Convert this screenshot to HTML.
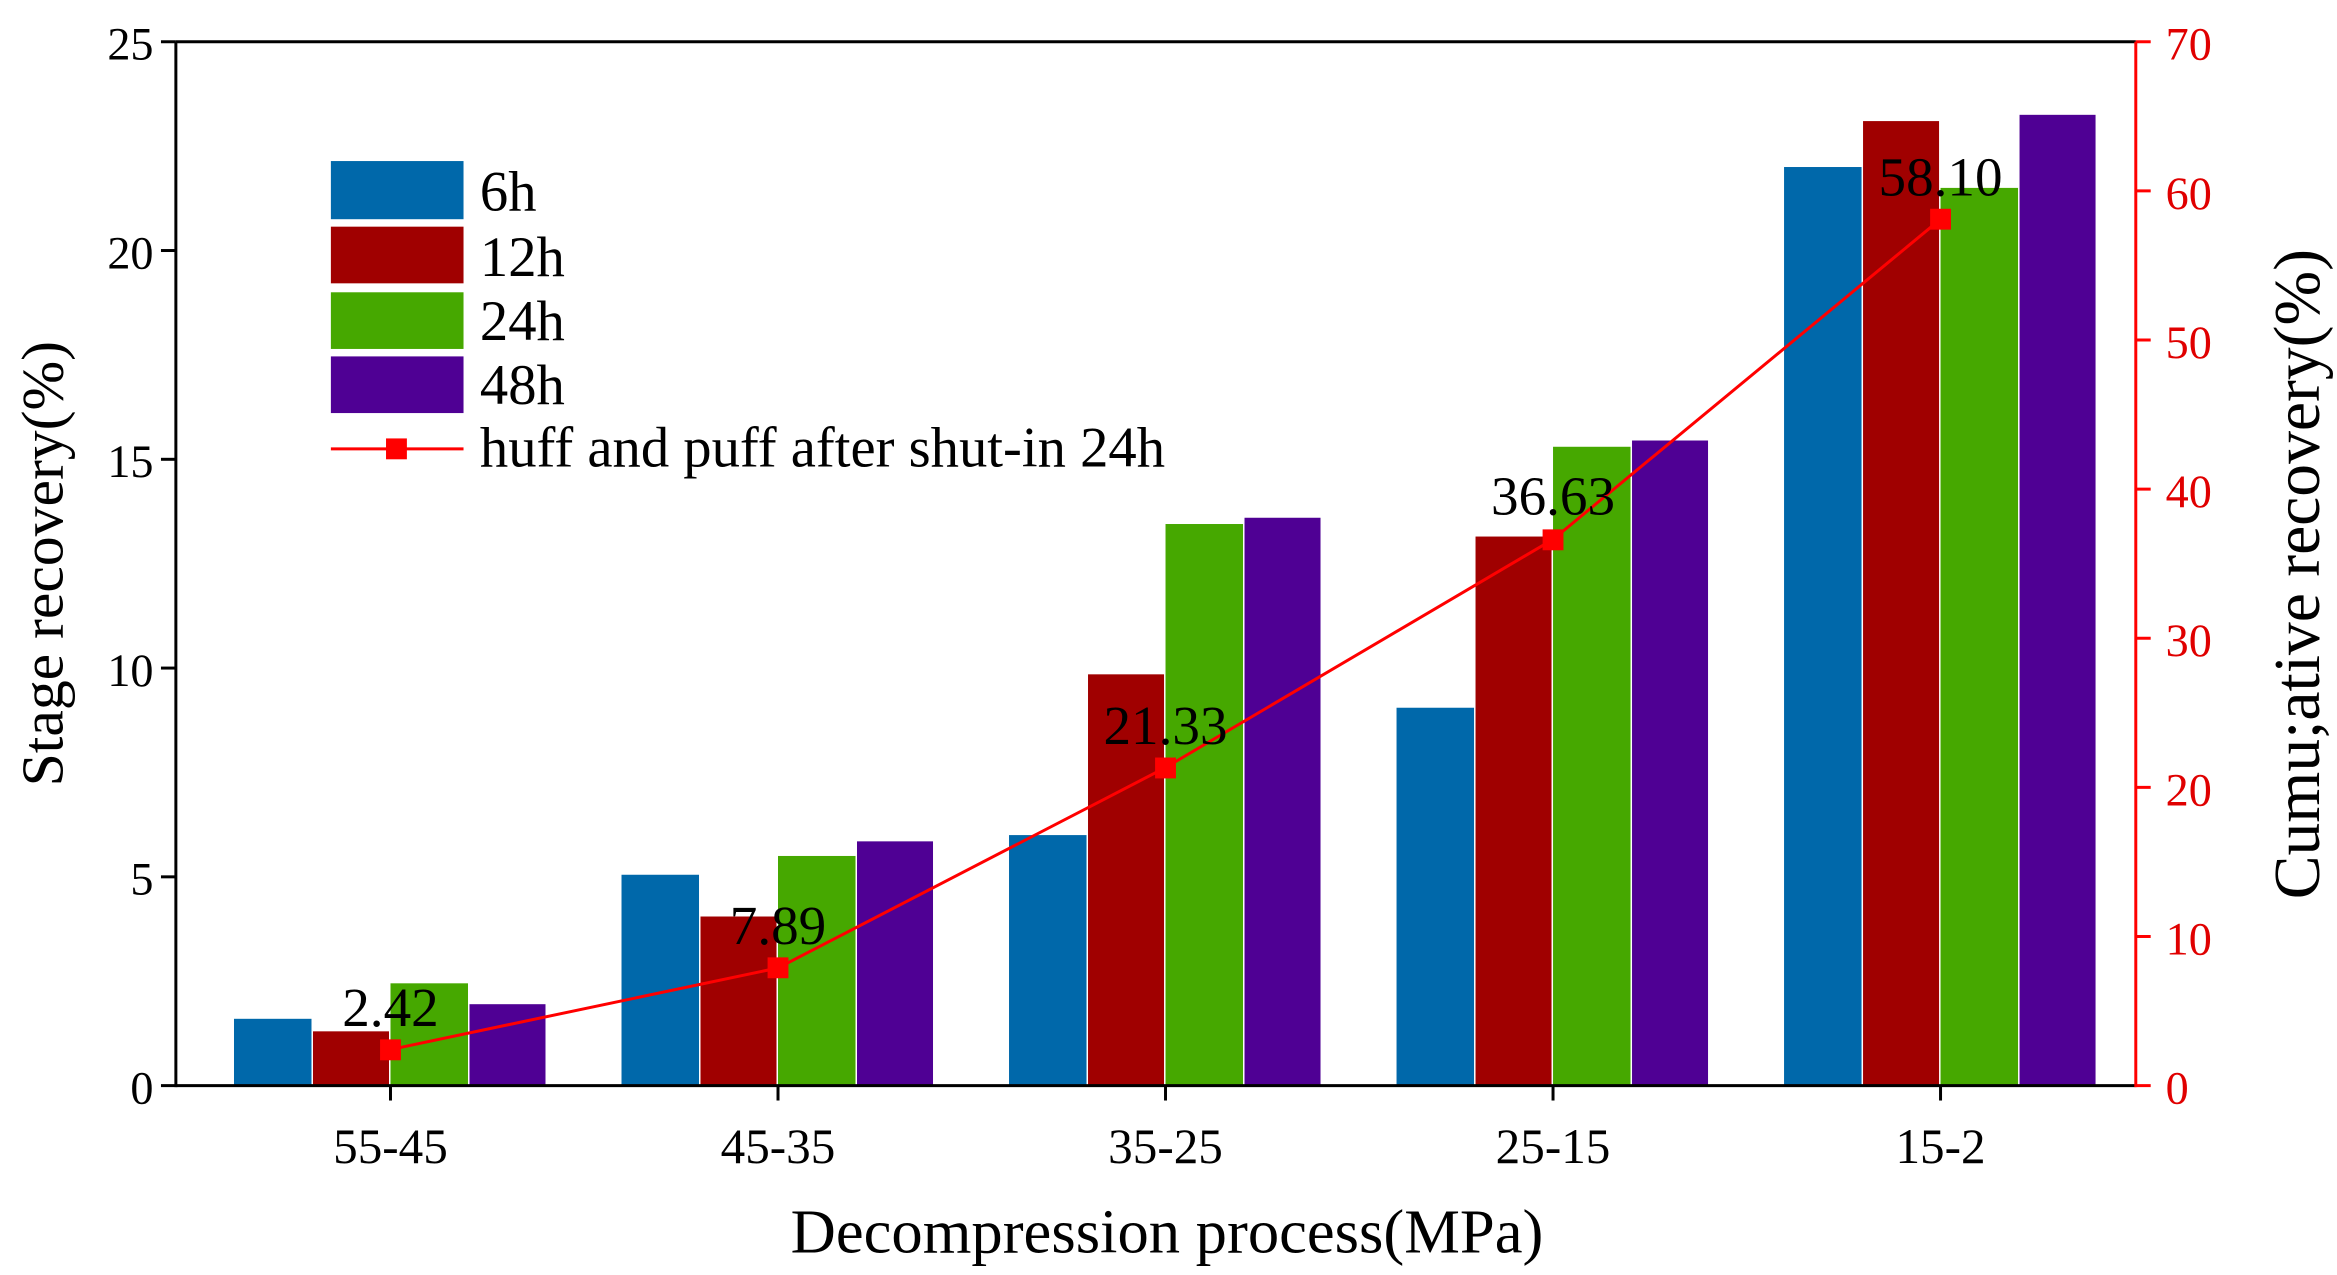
<!DOCTYPE html>
<html><head><meta charset="utf-8"><style>html,body{margin:0;padding:0;background:#fff}svg{display:block}svg text{font-family:"Liberation Serif",serif}</style></head>
<body>
<svg width="2337" height="1275" viewBox="0 0 1568 855" preserveAspectRatio="none" xmlns="http://www.w3.org/2000/svg">
<rect width="1568" height="855" fill="#fff"/>
<g>
<rect x="157" y="683.2" width="52" height="44.8" fill="#0068aa"/>
<rect x="210" y="691.6" width="51" height="36.4" fill="#a00000"/>
<rect x="262" y="659.4" width="52" height="68.6" fill="#46a800"/>
<rect x="315" y="673.4" width="51" height="54.6" fill="#4f0094"/>
<rect x="417" y="586.6" width="52" height="141.4" fill="#0068aa"/>
<rect x="470" y="614.6" width="51" height="113.4" fill="#a00000"/>
<rect x="522" y="574" width="52" height="154" fill="#46a800"/>
<rect x="575" y="564.2" width="51" height="163.8" fill="#4f0094"/>
<rect x="677" y="560" width="52" height="168" fill="#0068aa"/>
<rect x="730" y="452.2" width="51" height="275.8" fill="#a00000"/>
<rect x="782" y="351.4" width="52" height="376.6" fill="#46a800"/>
<rect x="835" y="347.2" width="51" height="380.8" fill="#4f0094"/>
<rect x="937" y="474.6" width="52" height="253.4" fill="#0068aa"/>
<rect x="990" y="359.8" width="51" height="368.2" fill="#a00000"/>
<rect x="1042" y="299.6" width="52" height="428.4" fill="#46a800"/>
<rect x="1095" y="295.4" width="51" height="432.6" fill="#4f0094"/>
<rect x="1197" y="112" width="52" height="616" fill="#0068aa"/>
<rect x="1250" y="81.2" width="51" height="646.8" fill="#a00000"/>
<rect x="1302" y="126" width="52" height="602" fill="#46a800"/>
<rect x="1355" y="77" width="51" height="651" fill="#4f0094"/>
</g>
<line x1="118" y1="28" x2="1433" y2="28" stroke="#000" stroke-width="2"/>
<line x1="118" y1="728" x2="1433" y2="728" stroke="#000" stroke-width="2"/>
<line x1="118" y1="28" x2="118" y2="729" stroke="#000" stroke-width="2"/>
<line x1="1433" y1="28" x2="1433" y2="729" stroke="#f00" stroke-width="2"/>
<g stroke="#000" stroke-width="2">
<line x1="108" y1="28" x2="118" y2="28"/><line x1="108" y1="168" x2="118" y2="168"/><line x1="108" y1="308" x2="118" y2="308"/><line x1="108" y1="448" x2="118" y2="448"/><line x1="108" y1="588" x2="118" y2="588"/><line x1="108" y1="728" x2="118" y2="728"/>
<line x1="262" y1="728" x2="262" y2="738"/><line x1="522" y1="728" x2="522" y2="738"/><line x1="782" y1="728" x2="782" y2="738"/><line x1="1042" y1="728" x2="1042" y2="738"/><line x1="1302" y1="728" x2="1302" y2="738"/>
</g>
<g stroke="#f00" stroke-width="2">
<line x1="1433" y1="28" x2="1443" y2="28"/><line x1="1433" y1="128" x2="1443" y2="128"/><line x1="1433" y1="228" x2="1443" y2="228"/><line x1="1433" y1="328" x2="1443" y2="328"/><line x1="1433" y1="428" x2="1443" y2="428"/><line x1="1433" y1="528" x2="1443" y2="528"/><line x1="1433" y1="628" x2="1443" y2="628"/><line x1="1433" y1="728" x2="1443" y2="728"/>
</g>
<g font-size="31" text-anchor="end" fill="#000">
<text x="103" y="40">25</text><text x="103" y="180">20</text><text x="103" y="320">15</text><text x="103" y="460">10</text><text x="103" y="600">5</text><text x="103" y="740">0</text>
</g>
<g font-size="31" fill="#e00000">
<text x="1453" y="40">70</text><text x="1453" y="140">60</text><text x="1453" y="240">50</text><text x="1453" y="340">40</text><text x="1453" y="440">30</text><text x="1453" y="540">20</text><text x="1453" y="640">10</text><text x="1453" y="740">0</text>
</g>
<g font-size="33" text-anchor="middle">
<text x="262" y="780">55-45</text><text x="522" y="780">45-35</text><text x="782" y="780">35-25</text><text x="1042" y="780">25-15</text><text x="1302" y="780">15-2</text>
</g>
<text x="783" y="840" font-size="42" text-anchor="middle">Decompression process(MPa)</text>
<text transform="translate(42,378) rotate(-90)" font-size="40" text-anchor="middle">Stage recovery(%)</text>
<text transform="translate(1556,385) rotate(-90)" font-size="44" text-anchor="middle">Cumu;ative recovery(%)</text>
<polyline points="262,703.8 522,649.1 782,514.7 1042,361.7 1302,147" fill="none" stroke="#f00" stroke-width="2"/>
<g fill="#f00">
<rect x="255" y="697" width="14" height="14"/><rect x="515" y="642" width="14" height="14"/><rect x="775" y="508" width="14" height="14"/><rect x="1035" y="355" width="14" height="14"/><rect x="1295" y="140" width="14" height="14"/>
</g>
<g font-size="37" text-anchor="middle">
<text x="262" y="688">2.42</text><text x="522" y="633">7.89</text><text x="782" y="499">21.33</text><text x="1042" y="345">36.63</text><text x="1302" y="131">58.10</text>
</g>
<rect x="222" y="108" width="89" height="39" fill="#0068aa"/>
<rect x="222" y="152" width="89" height="38" fill="#a00000"/>
<rect x="222" y="196" width="89" height="38" fill="#46a800"/>
<rect x="222" y="239" width="89" height="38" fill="#4f0094"/>
<g font-size="38">
<text x="322" y="141">6h</text><text x="322" y="185">12h</text><text x="322" y="228">24h</text><text x="322" y="271">48h</text>
<text x="322" y="313">huff and puff after shut-in 24h</text>
</g>
<line x1="222" y1="301" x2="311" y2="301" stroke="#f00" stroke-width="2"/>
<rect x="259" y="294" width="14" height="14" fill="#f00"/>
</svg>
</body></html>
